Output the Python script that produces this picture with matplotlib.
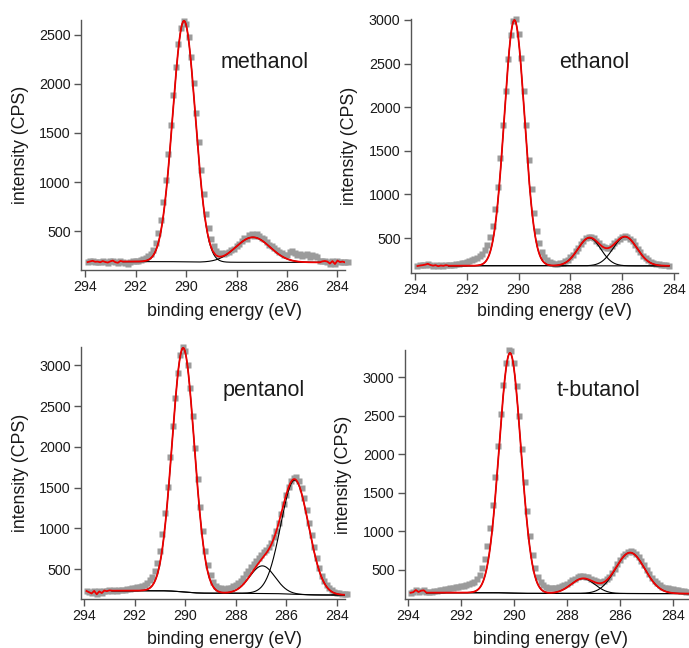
import numpy as np
import matplotlib
matplotlib.use("Agg")
import matplotlib.pyplot as plt

plt.rcParams['font.family'] = ['Liberation Sans', 'DejaVu Sans']

# C 1s spectra, counts per second in 0.1 eV steps going down from the start energy
METHANOL_START = 293.9
METHANOL_CPS = [185, 192, 198, 188, 190, 183, 195, 186, 180, 192,
                200, 184, 178, 196, 188, 175, 170, 182, 194, 197,
                200, 205, 212, 225, 245, 268, 310, 378, 478, 615,
                797, 1025, 1290, 1586, 1888, 2170, 2405, 2567, 2640, 2608,
                2481, 2271, 2005, 1706, 1406, 1125, 880, 678, 533, 420,
                344, 298, 270, 275, 268, 282, 290, 305, 318, 352,
                374, 402, 430, 418, 462, 470, 455, 472, 448, 430,
                415, 392, 360, 350, 330, 312, 290, 275, 262, 258,
                290, 300, 278, 262, 270, 248, 255, 265, 240, 262,
                250, 232, 200, 192, 196, 190, 170, 195, 165, 200,
                185, 190, 182, 188]

ETHANOL_START = 293.9
ETHANOL_CPS = [180, 186, 190, 196, 205, 192, 184, 190, 178, 186,
               182, 190, 187, 193, 196, 200, 205, 210, 220, 228,
               238, 245, 258, 272, 290, 318, 360, 420, 510, 640,
               830, 1090, 1415, 1795, 2190, 2550, 2830, 2985, 3005, 2835,
               2560, 2190, 1790, 1400, 1060, 790, 580, 440, 340, 280,
               245, 222, 210, 205, 208, 212, 220, 232, 250, 278,
               310, 350, 392, 435, 470, 498, 512, 510, 498, 470,
               440, 412, 395, 385, 392, 410, 440, 468, 492, 515,
               522, 515, 494, 462, 420, 378, 335, 298, 268, 245,
               225, 212, 205, 198, 195, 192, 188, 185]

PENTANOL_START = 293.9
PENTANOL_CPS = [230, 215, 200, 232, 190, 225, 205, 236, 228, 238,
                232, 240, 236, 244, 242, 248, 252, 258, 262, 268,
                275, 285, 295, 310, 330, 360, 405, 475, 580, 725,
                925, 1190, 1505, 1870, 2250, 2605, 2910, 3125, 3222, 3175,
                3002, 2724, 2373, 1990, 1609, 1260, 962, 726, 548, 425,
                345, 295, 270, 262, 255, 257, 263, 272, 286, 304,
                328, 357, 393, 436, 477, 522, 563, 601, 638, 672,
                704, 736, 775, 824, 889, 970, 1068, 1179, 1295, 1407,
                1501, 1579, 1619, 1632, 1582, 1490, 1370, 1225, 1070, 915,
                765, 630, 515, 420, 350, 300, 265, 240, 222, 210,
                200, 195, 192, 188]

TBUTANOL_START = 293.9
TBUTANOL_CPS = [205, 212, 240, 215, 232, 236, 210, 214, 220, 226,
                232, 238, 245, 252, 258, 264, 270, 276, 282, 288,
                294, 300, 312, 325, 345, 380, 435, 520, 640, 810,
                1040, 1340, 1700, 2100, 2515, 2890, 3180, 3345, 3332, 3175,
                2884, 2498, 2068, 1645, 1262, 945, 700, 525, 410, 340,
                300, 282, 272, 268, 266, 268, 275, 288, 302, 320,
                342, 365, 388, 405, 418, 420, 415, 403, 386, 367,
                351, 341, 341, 354, 378, 415, 462, 515, 572, 625,
                675, 712, 735, 742, 730, 704, 665, 615, 560, 503,
                450, 402, 362, 330, 305, 286, 272, 262, 255, 248,
                240, 236, 232, 225, 220, 215]

# fitted gaussian components: centre (eV), height (CPS), sigma (eV)
METHANOL_CENTERS = [290.08, 287.35]
METHANOL_HEIGHTS = [2455, 255]
METHANOL_SIGMAS = [0.45, 0.68]
METHANOL_BG = [190, 182]          # background high BE side, low BE side
METHANOL_WINDOW = [292.5, 284.7]  # fit range

ETHANOL_CENTERS = [290.16, 287.27, 285.89]
ETHANOL_HEIGHTS = [2815, 320, 333]
ETHANOL_SIGMAS = [0.39, 0.44, 0.46]
ETHANOL_BG = [183, 182]
ETHANOL_WINDOW = [292.7, 284.2]

PENTANOL_CENTERS = [290.08, 286.95, 285.67]
PENTANOL_HEIGHTS = [2995, 338, 1400]
PENTANOL_SIGMAS = [0.44, 0.50, 0.55]
PENTANOL_BG = [234, 181]
PENTANOL_WINDOW = [292.9, 283.6]

TBUTANOL_CENTERS = [290.15, 287.4, 285.62]
TBUTANOL_HEIGHTS = [3110, 192, 530]
TBUTANOL_SIGMAS = [0.41, 0.45, 0.55]
TBUTANOL_BG = [206, 194]
TBUTANOL_WINDOW = [293.3, 283.4]

Y_TICKS = [500, 1000, 1500, 2000, 2500, 3000]
X_TICKS = [294, 292, 290, 288, 286, 284]

AX_COLOR = '#555555'


def energies(start, cps):
    return start - 0.1 * np.arange(len(cps))


def shirley(comps, bg_hi, bg_lo):
    # step background that follows the peak area integrated from the low BE side
    total = comps.sum(axis=0)
    area = np.cumsum(total[::-1])[::-1]
    return bg_lo + (bg_hi - bg_lo) * area / area[0]


def draw_panel(ax, name, start, cps, centers, heights, sigmas, bg, window,
               xlim, ylim, name_pos, xlab_pos, ylab_pos):
    x = energies(start, cps)
    y = np.array(cps, dtype=float)
    ax.plot(x, y, 's', color='#9b9b9b', ms=4.3, mec='none', zorder=1,
            clip_on=False)

    xf = np.linspace(window[0], window[1], 800)
    comps = np.array([h * np.exp(-(xf - c) ** 2 / (2 * s ** 2))
                      for c, h, s in zip(centers, heights, sigmas)])
    base = shirley(comps, bg[0], bg[1])
    for comp in comps:
        ax.plot(xf, comp + base, color='black', lw=0.8, zorder=2)

    # outside the fit range the red trace just follows the counts
    left = x > window[0]
    right = x < window[1]
    rx = np.concatenate([x[left], xf, x[right]])
    ry = np.concatenate([y[left], comps.sum(axis=0) + base, y[right]])
    ax.plot(rx, ry, color='#ee0000', lw=1.3, zorder=3)

    ax.set_xlim(*xlim)
    ax.set_ylim(*ylim)
    ax.set_xticks(X_TICKS)
    ax.set_yticks([t for t in Y_TICKS if t < ylim[1]])
    for side in ['top', 'right']:
        ax.spines[side].set_visible(False)
    for side in ['left', 'bottom']:
        ax.spines[side].set_color(AX_COLOR)
        ax.spines[side].set_linewidth(1.0)
    ax.tick_params(direction='out', length=5, width=1.0, color=AX_COLOR,
                   labelsize=10.3, labelcolor='#1a1a1a', pad=2.5)

    ax.set_xlabel('binding energy (eV)', fontsize=12.8, color='#1a1a1a')
    ax.set_ylabel('intensity (CPS)', fontsize=12.8, color='#1a1a1a')
    ax.xaxis.set_label_coords(*xlab_pos)
    ax.yaxis.set_label_coords(*ylab_pos)
    ax.text(name_pos[0], name_pos[1], name, transform=ax.transAxes,
            ha='center', va='center', fontsize=15.5, color='#1a1a1a')


fig = plt.figure(figsize=(6.89, 6.48), dpi=100)

ax1 = fig.add_axes([0.1176, 0.5833, 0.3832, 0.3858])
draw_panel(ax1, 'methanol', METHANOL_START, METHANOL_CPS, METHANOL_CENTERS,
           METHANOL_HEIGHTS, METHANOL_SIGMAS, METHANOL_BG, METHANOL_WINDOW,
           (294.16, 283.7), (104, 2650), (0.696, 0.83), (0.545, -0.13),
           (-0.197, 0.5))

ax2 = fig.add_axes([0.5965, 0.5787, 0.3875, 0.392])
draw_panel(ax2, 'ethanol', ETHANOL_START, ETHANOL_CPS, ETHANOL_CENTERS,
           ETHANOL_HEIGHTS, ETHANOL_SIGMAS, ETHANOL_BG, ETHANOL_WINDOW,
           (294.15, 283.85), (100, 3010), (0.687, 0.829), (0.539, -0.118),
           (-0.199, 0.5))

ax3 = fig.add_axes([0.1176, 0.0756, 0.3832, 0.3889])
draw_panel(ax3, 'pentanol', PENTANOL_START, PENTANOL_CPS, PENTANOL_CENTERS,
           PENTANOL_HEIGHTS, PENTANOL_SIGMAS, PENTANOL_BG, PENTANOL_WINDOW,
           (294.12, 283.68), (132, 3225), (0.69, 0.829), (0.542, -0.127),
           (-0.197, 0.5))

ax4 = fig.add_axes([0.5878, 0.0756, 0.4122, 0.3843])
draw_panel(ax4, 't-butanol', TBUTANOL_START, TBUTANOL_CPS, TBUTANOL_CENTERS,
           TBUTANOL_HEIGHTS, TBUTANOL_SIGMAS, TBUTANOL_BG, TBUTANOL_WINDOW,
           (294.11, 283.4), (124, 3350), (0.682, 0.836), (0.514, -0.128),
           (-0.187, 0.5))

fig.savefig('out.png', dpi=100)
